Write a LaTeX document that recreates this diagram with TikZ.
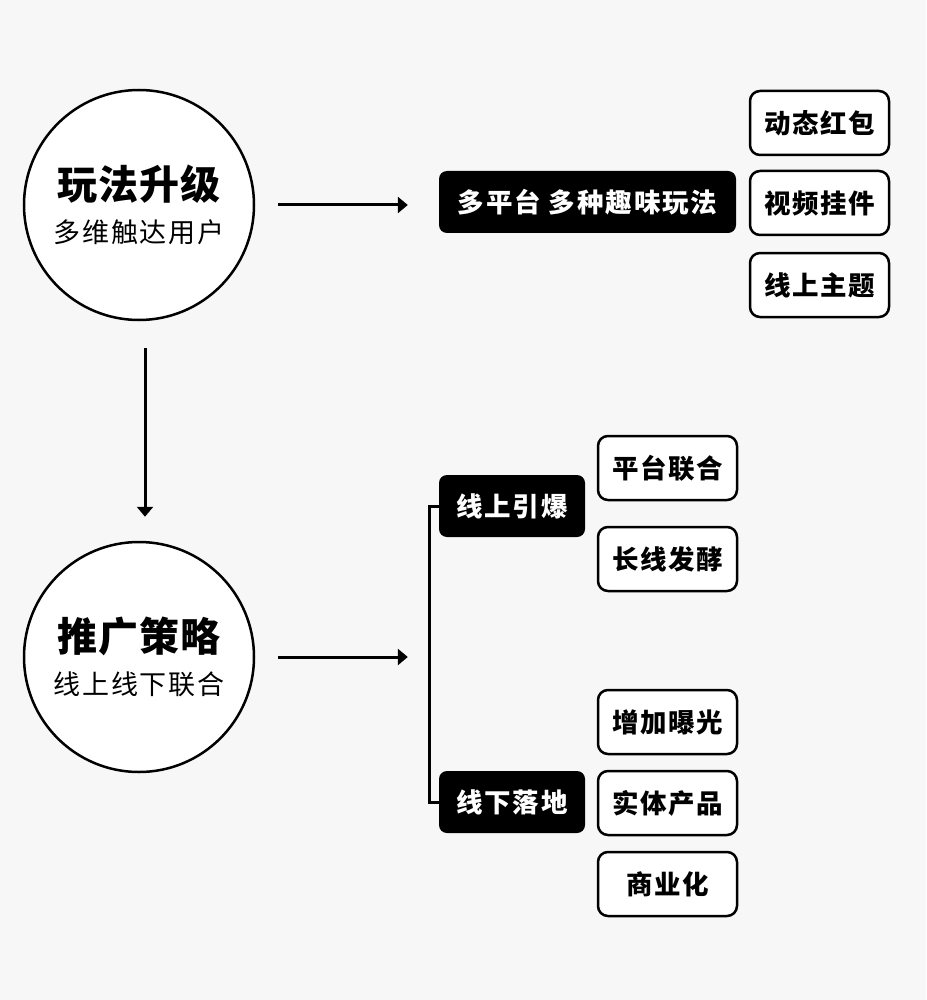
\documentclass[tikz,border=0pt]{standalone}
\usepackage{fontspec}
\setmainfont{Noto Sans CJK SC}
\usetikzlibrary{arrows.meta}
\definecolor{bg}{HTML}{F7F7F7}

\begin{document}
\begin{tikzpicture}[x=1pt,y=-1pt,
  big/.style={circle, draw, line width=2.5pt, fill=white, minimum size=230pt, align=center, inner sep=0pt},
  blk/.style={fill=black, text=white, rounded corners=8pt, minimum height=62pt, font=\fontsize{26.5}{30}\selectfont\bfseries\addfontfeature{LetterSpace=7}},
  wht/.style={draw, line width=2.5pt, fill=white, rounded corners=10pt, minimum width=139pt, minimum height=64pt, font=\fontsize{26.5}{30}\selectfont\bfseries\addfontfeature{LetterSpace=6}},
  arr/.style={line width=3pt, -{Triangle[length=10pt,width=16pt]}}]
\fill[bg] (0,0) rectangle (926,1000);
\useasboundingbox (0,0) rectangle (926,1000);
% circles
\node [big] (p) at (139,205) {{\fontsize{40}{44}\selectfont\bfseries\addfontfeature{LetterSpace=3}玩法升级}\\[15pt]{\fontsize{27}{30}\selectfont\addfontfeature{LetterSpace=6}多维触达用户}};
\node [big] (q) at (139,657) {{\fontsize{40}{44}\selectfont\bfseries\addfontfeature{LetterSpace=3}推广策略}\\[15pt]{\fontsize{27}{30}\selectfont\addfontfeature{LetterSpace=6}线上线下联合}};
% top branch
\node [blk, minimum width=297pt] (m) at (587.5,202) {多平台\ 多种趣味玩法};
\node [wht] (m1) at (819.5,123) {动态红包};
\node [wht] (m2) at (819.5,203) {视频挂件};
\node [wht] (m3) at (819.5,285) {线上主题};
% bottom branch
\node [blk, minimum width=146pt] (y) at (512,506) {线上引爆};
\node [blk, minimum width=146pt] (x) at (512,802) {线下落地};
\node [wht] (y1) at (667.5,468) {平台联合};
\node [wht] (y2) at (667.5,559) {长线发酵};
\node [wht] (x1) at (667.5,722) {增加曝光};
\node [wht] (x2) at (667.5,803) {实体产品};
\node [wht] (x3) at (667.5,884) {商业化};
% connectors
\draw [arr, shorten <=23pt, shorten >=31pt] (p.east) -- (p.east -| m.west);
\draw [arr, shorten <=27pt, shorten >=24pt] ([xshift=6pt]p.south) -- ([xshift=6pt]q.north);
\draw [arr, shorten <=23pt, shorten >=31pt] (q.east) -- (q.east -| y.west);
\draw [line width=3pt] (y.west) -- ++(-9,0) |- (x.west);
\end{tikzpicture}
\end{document}
